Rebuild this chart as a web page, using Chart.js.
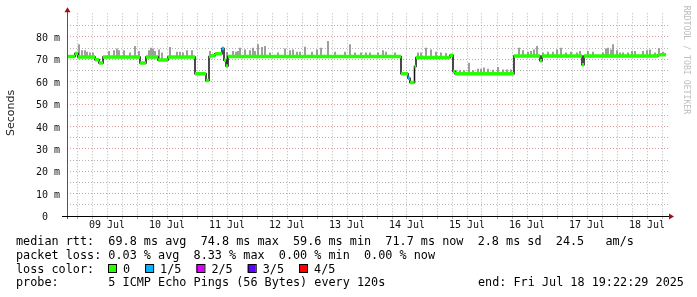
<!DOCTYPE html>
<html>
<head>
<meta charset="utf-8">
<script src="https://cdn.jsdelivr.net/npm/chart.js@4.4.1/dist/chart.umd.min.js"></script>
<style>
  html, body { margin: 0; padding: 0; background: #fff; }
  canvas { display: block; }
</style>
</head>
<body>
<canvas id="smoke" width="697" height="297"></canvas>
<script>
// time is in hours from 09 Jul 00:00, values in ms
const xMin = -4, xMax = 236.4;

// median rtt, held until the next entry
const medHours = [-4.0, -0.8, 0.4, 7.2, 8.8, 10.4, 25.2, 27.6, 32.4, 36.4, 47.2, 51.6, 52.8, 53.6, 55.2, 58.0, 58.8,
  59.6, 60.4, 129.6, 132.4, 133.2, 135.0, 135.6, 149.2, 150.4, 151.2, 174.8, 185.2, 186.0, 202.0, 202.8, 232.4, 235.6];
const medValues = [71.2, 72.6, 71.0, 69.8, 68.3, 71.0, 68.3, 71.0, 69.6, 71.0, 63.5, 60.5, 71.2, 71.6, 72.4, 74.8, 69.5,
  67.0, 71.2, 63.5, 61.5, 59.6, 66.8, 70.8, 71.8, 64.5, 63.5, 71.4, 69.3, 71.4, 67.5, 71.4, 72.0, 72.0];
const medLoss = [0, 0, 0, 0, 0, 0, 0, 0, 0, 0, 0, 0, 0, 0, 0, 1, 0,
  0, 0, 0, 1, 0, 0, 0, 0, 0, 0, 0, 0, 0, 0, 0, 0, 0];

// smoke spikes (highest ping)
const smokeHours = [0.8, 2.0, 3.2, 4.0, 5.2, 6.4, 12.8, 14.8, 16.0, 16.8, 18.8, 21.2, 23.2, 24.8, 28.8, 29.6, 30.4, 31.2,
  32.8, 34.0, 37.2, 40.0, 41.2, 42.4, 44.0,
  46.0, 53.2, 60.0, 62.4, 63.6, 64.4, 65.2, 67.2, 69.2, 70.4, 71.2, 72.4, 74.0, 75.2, 77.2, 80.4, 83.2, 85.2, 86.4,
  88.0, 89.2, 91.2, 94.0, 96.0,
  97.6, 100.4, 103.2, 107.2, 109.2, 111.2, 113.6, 115.6, 117.2, 120.4, 122.4, 123.6, 127.2, 136.4, 137.6, 139.6,
  141.6, 143.6, 145.6, 147.6,
  151.6, 153.2, 154.8, 156.8, 158.4, 160.4, 161.6, 162.8, 164.4, 166.4, 168.4, 170.4, 172.0, 173.6,
  176.8, 178.4, 180.4, 181.6, 182.8, 184.0, 186.4, 188.4, 190.4, 192.0, 193.6, 195.6, 197.6,
  200.0, 201.2, 204.4, 206.4, 210.4, 211.6, 212.4, 213.6, 214.4, 216.0, 217.2, 218.4, 220.4, 222.0, 223.2, 226.4,
  228.0, 229.2, 231.2, 232.8, 234.4];
const smokeTop = [76.5, 73.8, 73.8, 73.2, 72.8, 72.8, 73.5, 73.8, 74.6, 73.8, 73.8, 72.8, 75.8, 73.5, 73.8, 75.0, 74.6, 73.5,
  74.2, 72.8, 75.3, 73.2, 73.2, 72.8, 73.8,
  73.8, 73.5, 73.1, 73.5, 73.2, 73.5, 75.0, 74.2, 73.8, 75.0, 73.5, 76.5, 75.3, 75.8, 72.8, 72.8, 74.6, 73.8, 74.2,
  73.2, 73.2, 75.4, 73.2, 74.2,
  75.0, 78.0, 73.2, 73.2, 76.5, 72.8, 72.8, 72.8, 72.8, 72.8, 73.8, 73.2, 72.8, 72.8, 72.8, 75.0,
  74.2, 73.2, 72.8, 72.6,
  64.9, 64.9, 64.9, 68.3, 64.9, 65.6, 65.6, 66.1, 65.6, 65.1, 66.4, 65.3, 65.3, 65.3,
  75.0, 73.8, 73.2, 73.5, 74.2, 75.8, 72.8, 73.2, 73.2, 74.2, 75.0, 72.8, 73.2,
  72.8, 73.5, 73.5, 73.2, 72.8, 74.6, 75.0, 74.2, 76.5, 73.8, 72.8, 72.8, 72.8, 73.5, 73.5, 73.5,
  73.8, 74.2, 72.8, 74.8, 73.2];

const dayLabels = ['09 Jul', '10 Jul', '11 Jul', '12 Jul', '13 Jul', '14 Jul', '15 Jul', '16 Jul', '17 Jul', '18 Jul'];
const yMax = 90.5;

const lossLabels = ['0', '1/5', '2/5', '3/5', '4/5'];
const lossColors = ['#26ff00', '#00b8ff', '#dd00ff', '#5e00ff', '#ff0000'];

const statLines = [
  'median rtt:  69.8 ms avg  74.8 ms max  59.6 ms min  71.7 ms now  2.8 ms sd  24.5   am/s',
  'packet loss: 0.03 % avg  8.33 % max  0.00 % min  0.00 % now'
];
const probeText = 'probe:       5 ICMP Echo Pings (56 Bytes) every 120s';
const endText = 'end: Fri Jul 18 19:22:29 2025';

function medianAt(h) {
  let i = 0;
  while (i + 1 < medHours.length && medHours[i + 1] <= h) i++;
  return medValues[i];
}

// black step line through all medians
const stepData = medHours.map((h, i) => ({ x: h, y: medValues[i] }));

// coloured horizontal pieces only
const pieceData = [];
for (let i = 0; i < medHours.length - 1; i++) {
  pieceData.push({ x: medHours[i], y: medValues[i] });
  pieceData.push({ x: medHours[i + 1], y: medValues[i] });
  pieceData.push({ x: medHours[i + 1], y: null });
}

const smokeData = smokeHours.map((h, i) => ({ x: h, y: [medianAt(h) - 0.4, smokeTop[i]] }));

const mono = 'DejaVu Sans Mono';
const redGrid = 'rgba(215, 120, 120, 0.75)';
const grayGrid = 'rgba(150, 150, 150, 0.7)';

const frame = {
  id: 'frame',
  afterDraw(chart) {
    const { ctx, chartArea: a } = chart;
    ctx.save();

    // axes
    ctx.lineWidth = 1;
    ctx.strokeStyle = '#555';
    ctx.beginPath();
    ctx.moveTo(a.left + 0.5, a.top - 3);
    ctx.lineTo(a.left + 0.5, a.bottom + 3);
    ctx.stroke();
    ctx.strokeStyle = '#000';
    ctx.beginPath();
    ctx.moveTo(a.left - 5, Math.round(a.bottom) + 0.5);
    ctx.lineTo(a.right + 1, Math.round(a.bottom) + 0.5);
    ctx.stroke();

    // arrow heads
    ctx.fillStyle = '#a01010';
    ctx.beginPath();
    ctx.moveTo(a.left + 0.5, a.top - 6);
    ctx.lineTo(a.left - 2.5, a.top - 1);
    ctx.lineTo(a.left + 3.5, a.top - 1);
    ctx.closePath();
    ctx.fill();
    const by = Math.round(a.bottom) + 0.5;
    ctx.beginPath();
    ctx.moveTo(a.right + 6, by);
    ctx.lineTo(a.right + 1, by - 3);
    ctx.lineTo(a.right + 1, by + 3);
    ctx.closePath();
    ctx.fill();

    // axis title
    ctx.fillStyle = '#222';
    ctx.font = '11px "DejaVu Sans"';
    ctx.textAlign = 'center';
    ctx.textBaseline = 'middle';
    ctx.save();
    ctx.translate(11, 113);
    ctx.rotate(-Math.PI / 2);
    ctx.fillText('Seconds', 0, 0);
    ctx.restore();

    // watermark
    ctx.save();
    ctx.fillStyle = '#bdbdbd';
    ctx.font = '8.2px "DejaVu Sans Mono"';
    ctx.translate(686, 60);
    ctx.rotate(Math.PI / 2);
    ctx.fillText('RRDTOOL / TOBI OETIKER', 0, 0);
    ctx.restore();

    // legend block
    ctx.fillStyle = '#000';
    ctx.font = '11.8px "DejaVu Sans Mono"';
    ctx.textAlign = 'left';
    ctx.fillText(statLines[0], 16, 241.5);
    ctx.fillText(statLines[1], 16, 255.5);
    ctx.fillText('loss color:', 16, 269.5);
    let cx = 108;
    lossLabels.forEach((lab, i) => {
      ctx.fillStyle = lossColors[i];
      ctx.fillRect(cx, 264.5, 8, 8);
      ctx.strokeStyle = '#000';
      ctx.strokeRect(cx + 0.5, 264.5, 8, 8);
      ctx.fillStyle = '#000';
      ctx.fillText(lab, cx + 15, 269.5);
      cx += 15 + ctx.measureText(lab).width + 15;
    });
    ctx.fillText(probeText, 16, 283);
    ctx.fillText(endText, 478, 283);

    ctx.restore();
  }
};

new Chart(document.getElementById('smoke'), {
  type: 'line',
  data: {
    datasets: [
      {
        type: 'bar',
        data: smokeData,
        backgroundColor: '#8c8c8c',
        barThickness: 1,
        grouped: false,
        order: 3
      },
      {
        data: stepData,
        borderColor: '#111',
        borderWidth: 1.5,
        stepped: true,
        pointRadius: 0,
        order: 2
      },
      {
        data: pieceData,
        borderWidth: 3.5,
        pointRadius: 0,
        spanGaps: false,
        borderColor: lossColors[0],
        segment: {
          borderColor: c => lossColors[medLoss[Math.floor(c.p0DataIndex / 3)]]
        },
        order: 1
      }
    ]
  },
  options: {
    responsive: false,
    animation: false,
    devicePixelRatio: 1,
    layout: { padding: { left: 0, right: 29, top: 13.3, bottom: 0 } },
    plugins: { legend: { display: false }, tooltip: { enabled: false } },
    scales: {
      x: {
        type: 'linear',
        min: xMin,
        max: xMax,
        offset: false,
        afterFit: s => { s.height = 81; },
        afterBuildTicks: s => {
          const t = [];
          for (let h = 0; h <= xMax; h += 6) t.push({ value: h });
          s.ticks = t;
        },
        grid: {
          offset: false,
          drawTicks: true,
          tickLength: 3,
          color: c => (c.tick && c.tick.value % 24 === 0 ? redGrid : grayGrid),
          lineWidth: 1
        },
        border: { display: false, dash: [1, 2] },
        ticks: {
          autoSkip: false,
          maxRotation: 0,
          padding: 0,
          color: '#111',
          font: { family: mono, size: 10 },
          callback: v => ((v - 12) % 24 === 0 ? dayLabels[(v - 12) / 24] : '')
        }
      },
      y: {
        min: 0,
        max: yMax,
        afterFit: s => { s.width = 67; },
        afterBuildTicks: s => {
          const t = [];
          for (let v = 0; v <= 85; v += 5) t.push({ value: v });
          s.ticks = t;
        },
        grid: {
          drawTicks: false,
          color: c => (c.tick && c.tick.value === 0 ? 'rgba(0,0,0,0)' :
            (c.tick && c.tick.value % 10 === 0 ? redGrid : grayGrid)),
          lineWidth: 1
        },
        border: { display: false, dash: [1, 2] },
        ticks: {
          autoSkip: false,
          padding: 7,
          labelOffset: 1.5,
          color: '#111',
          font: { family: mono, size: 10 },
          callback: v => (v % 10 !== 0 ? '' : (v === 0 ? '0  ' : v + ' m'))
        }
      }
    }
  },
  plugins: [frame]
});
</script>
</body>
</html>
